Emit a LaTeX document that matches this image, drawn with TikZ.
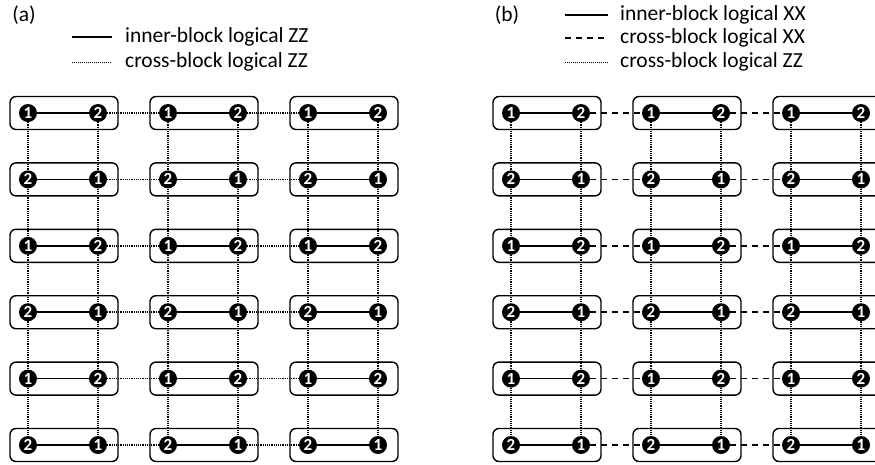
\documentclass[tikz,border=0pt]{standalone}
\usepackage{fontspec}
\setmainfont{Carlito}
\begin{document}
\begin{tikzpicture}[x=1pt,y=-1pt,
  blockbox/.style={draw, line width=1.4pt, rounded corners=6pt,
    minimum width=108pt, minimum height=33pt, inner sep=0pt},
  qubit/.style={circle, fill=black, minimum size=18pt, inner sep=0pt,
    text=white, font=\bfseries\fontsize{17}{17}\selectfont},
  innerlink/.style={line width=1.5pt},
  zzlink/.style={line width=1.5pt, dash pattern=on 1.1pt off 1.1pt},
  xxlink/.style={line width=1.5pt, dash pattern=on 6pt off 5pt},
  legzz/.style={line width=0.9pt, dash pattern=on 1pt off 1pt},
  legendtext/.style={anchor=west, inner sep=0pt, font=\fontsize{21.5}{23}\selectfont},
  panellabel/.style={inner sep=0pt, font=\fontsize{21.5}{23}\selectfont}
]
\useasboundingbox (0,0) rectangle (875,464);
\clip (0,0) rectangle (875,464);

% ---------- legends ----------
\node[panellabel] (lbla) at (24,15) {(a)};
\coordinate (la1s) at (72,37);  \coordinate (la1e) at (112,37);
\coordinate (la2s) at (72,62);  \coordinate (la2e) at (112,62);
\draw[innerlink] (la1s) -- (la1e);
\draw[legzz] (la2s) -- (la2e);
\node[legendtext] (lta1) at (125,37) {inner-block logical ZZ};
\node[legendtext] (lta2) at (125,62) {cross-block logical ZZ};

\node[panellabel] (lblb) at (507,15) {(b)};
\coordinate (lb1s) at (565,15); \coordinate (lb1e) at (608,15);
\coordinate (lb2s) at (565,38); \coordinate (lb2e) at (608,38);
\coordinate (lb3s) at (565,62); \coordinate (lb3e) at (608,62);
\draw[innerlink] (lb1s) -- (lb1e);
\draw[xxlink] (lb2s) -- (lb2e);
\draw[legzz] (lb3s) -- (lb3e);
\node[legendtext] (ltb1) at (620,15) {inner-block logical XX};
\node[legendtext] (ltb2) at (620,38) {cross-block logical XX};
\node[legendtext] (ltb3) at (620,62) {cross-block logical ZZ};

% ---------- blocks and qubits ----------
\foreach \p/\off in {a/0, b/483} {
  \foreach \r in {0,...,5} {
    \pgfmathsetmacro\yy{113+66.4*\r}
    \ifodd\r \def\labL{2}\def\labR{1}\else\def\labL{1}\def\labR{2}\fi
    \foreach \c in {0,1,2} {
      \pgfmathsetmacro\xx{\off+64+140*\c}
      \node[blockbox] (blk-\p-\r-\c) at (\xx,\yy) {};
      \node[qubit] (q-\p-\r-\c-L) at (\xx-36,\yy) {\labL};
      \node[qubit] (q-\p-\r-\c-R) at (\xx+34,\yy) {\labR};
      \draw[innerlink] (q-\p-\r-\c-L) -- (q-\p-\r-\c-R);
    }
  }
}

% ---------- cross-block connectors ----------
\foreach \r in {0,...,5} {
  \foreach \c/\n in {0/1, 1/2} {
    \draw[zzlink] (q-a-\r-\c-R) -- (q-a-\r-\n-L);
    \draw[xxlink] (q-b-\r-\c-R) -- (q-b-\r-\n-L);
  }
}
\foreach \p in {a,b} {
  \foreach \r/\s in {0/1, 1/2, 2/3, 3/4, 4/5} {
    \foreach \c in {0,1,2} {
      \draw[zzlink] (q-\p-\r-\c-L) -- (q-\p-\s-\c-L);
      \draw[zzlink] (q-\p-\r-\c-R) -- (q-\p-\s-\c-R);
    }
  }
}
\end{tikzpicture}
\end{document}
